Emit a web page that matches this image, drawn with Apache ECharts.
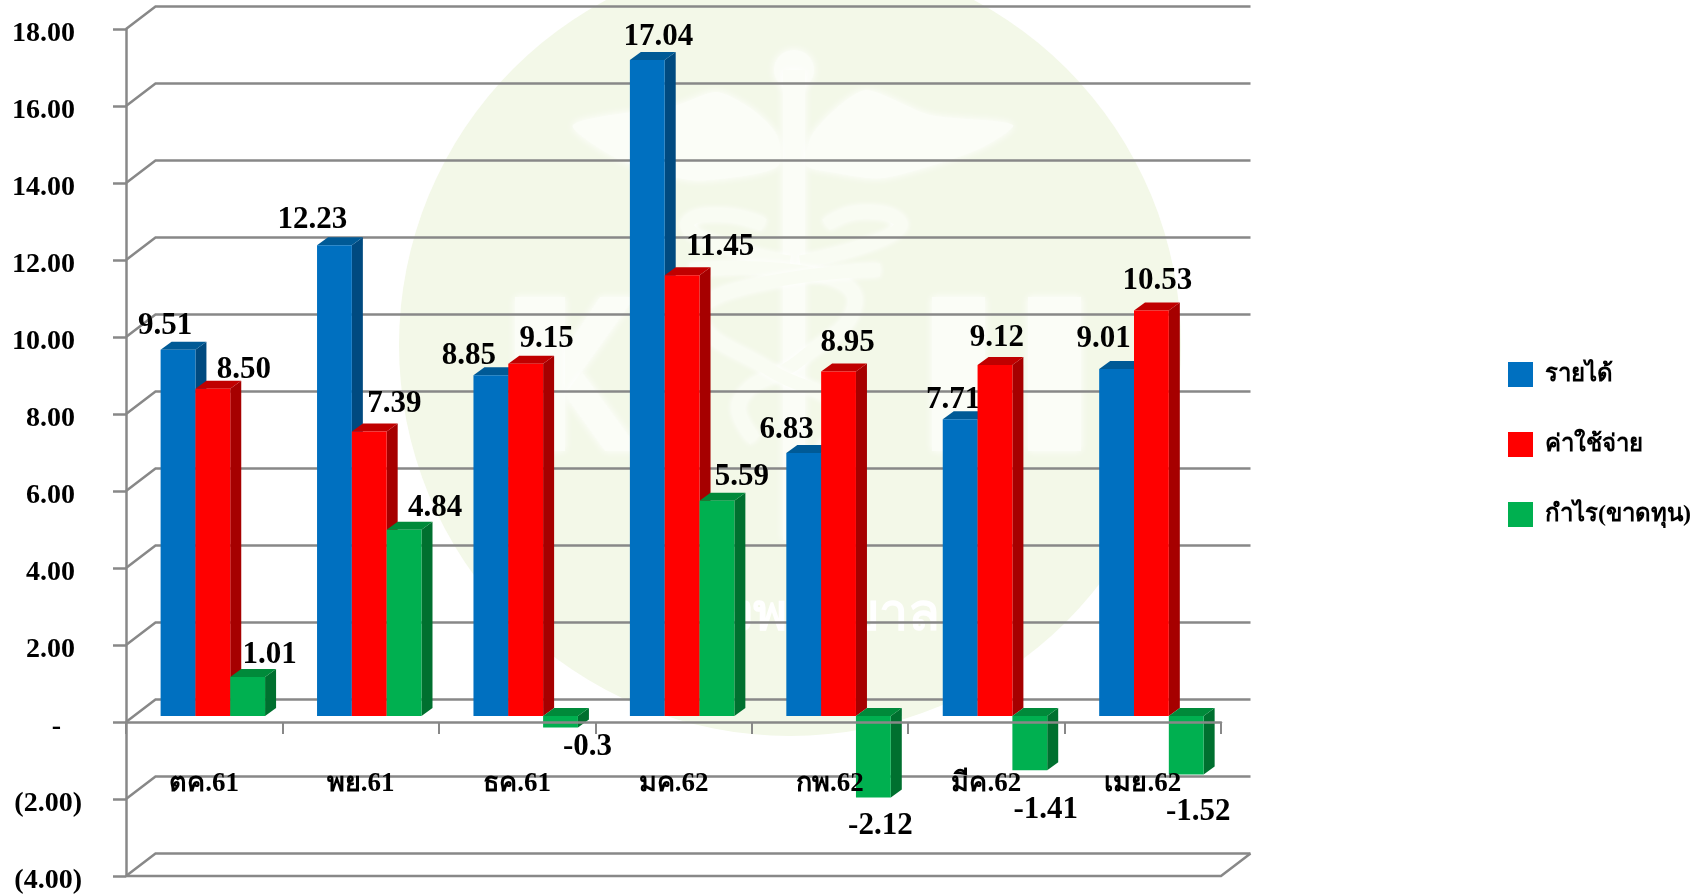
<!DOCTYPE html>
<html>
<head>
<meta charset="utf-8">
<title>รายได้ ค่าใช้จ่าย กำไร(ขาดทุน)</title>
<style>
  html, body { margin: 0; padding: 0; background: #fff; }
  #chart { width: 1704px; height: 894px; }
</style>
<script src="https://cdn.jsdelivr.net/npm/echarts@6/dist/echarts.min.js"></script>
</head>
<body>
<div id="chart"></div>
<script>
const months = ['ตค.61', 'พย.61', 'ธค.61', 'มค.62', 'กพ.62', 'มีค.62', 'เมย.62'];
const revenue = [9.51, 12.23, 8.85, 17.04, 6.83, 7.71, 9.01];
const expense = [8.50, 7.39, 9.15, 11.45, 8.95, 9.12, 10.53];
const profit = [1.01, 4.84, -0.3, 5.59, -2.12, -1.41, -1.52];
const profitText = ['1.01', '4.84', '-0.3', '5.59', '-2.12', '-1.41', '-1.52'];
const wallTicks = [-4, -2, 0, 2, 4, 6, 8, 10, 12, 14, 16, 18];

// hand placed label shifts from the bar's value point, same as in the picture
const revenueShift = [[-13, -30], [-22, -31], [-22, -25], [11, -29], [-17, -29], [-7, -25], [-13, -36]];
const expenseShift = [[31, -25], [25, -34], [21, -31], [38, -34], [9, -34], [2, -33], [6, -36]];
const profitShift = [[22, -28], [31, -28], [27, 13], [25, -30], [7, 22], [16, 34], [12, 31]];

const SERIF = '"Liberation Serif", "Noto Sans", serif';
const GRID_GRAY = '#888888';
const WALL_DX = 29.5;
const WALL_DY = 22.5;
const BAR_DX = 11;
const BAR_DY = 8;
const BAR_SHIFT_X = 8.5;
const BAR_SHIFT_Y = 6;

const chart = echarts.init(document.getElementById('chart'));

const renderWall = (params, api) => {
  const v = api.value(0);
  const cs = params.coordSys;
  const y = api.coord([0, v])[1];
  const left = cs.x;
  const right = cs.x + cs.width;
  const style = { stroke: GRID_GRAY, lineWidth: 2.5, fill: null };
  const children = [{
    type: 'polyline',
    shape: { points: [[left, y], [left + WALL_DX, y - WALL_DY], [right + WALL_DX, y - WALL_DY]] },
    style: style
  }];
  if (v === -4) {
    children.push({
      type: 'polyline',
      shape: { points: [[left, y], [right, y], [right + WALL_DX, y - WALL_DY]] },
      style: style
    });
  }
  return { type: 'group', children: children };
};

const barRenderer = (slot, colors, shifts, texts) => (params, api) => {
  const i = api.value(0);
  const v = api.value(1);
  const band = api.size([1, 0])[0];
  const barW = band * 0.2226;
  const x = api.coord([i, 0])[0] - band / 2 + band * 0.1669 + BAR_SHIFT_X + barW * slot;
  const yZero = api.coord([i, 0])[1] - BAR_SHIFT_Y;
  const yVal = api.coord([i, v])[1] - BAR_SHIFT_Y;
  const yTop = Math.min(yZero, yVal);
  const yBot = Math.max(yZero, yVal);
  const shift = shifts[i];
  return {
    type: 'group',
    children: [
      {
        type: 'polygon',
        shape: { points: [[x + barW, yTop], [x + barW + BAR_DX, yTop - BAR_DY], [x + barW + BAR_DX, yBot - BAR_DY], [x + barW, yBot]] },
        style: { fill: colors[1] }
      },
      {
        type: 'polygon',
        shape: { points: [[x, yTop], [x + BAR_DX, yTop - BAR_DY], [x + barW + BAR_DX, yTop - BAR_DY], [x + barW, yTop]] },
        style: { fill: colors[2] }
      },
      {
        type: 'rect',
        shape: { x: x, y: yTop, width: barW, height: yBot - yTop },
        style: { fill: colors[0] }
      },
      {
        type: 'text',
        x: x + barW / 2 + shift[0],
        y: yVal + BAR_SHIFT_Y + shift[1],
        style: {
          text: texts[i],
          fill: '#000',
          font: 'bold 31px ' + SERIF,
          align: 'center',
          verticalAlign: 'middle'
        }
      }
    ]
  };
};

const barSeries = (name, values, slot, colors, shifts, texts) => ({
  name: name,
  type: 'custom',
  z: 3,
  silent: true,
  itemStyle: { color: colors[0] },
  encode: { x: 0, y: 1 },
  data: values.map((v, i) => [i, v]),
  renderItem: barRenderer(slot, colors, shifts, texts)
});

const blob = (extra) => Object.assign({ z: -1, silent: true }, extra);
const WHITE = { fill: '#fbfdf7', shadowBlur: 8, shadowColor: '#ffffff' };
const snake = { fill: null, stroke: '#f9fcf3', lineWidth: 13, shadowBlur: 6, shadowColor: '#ffffff' };

chart.setOption({
  animation: false,
  backgroundColor: '#fff',
  graphic: [
    blob({ type: 'circle', shape: { cx: 790, cy: 345, r: 391 }, style: { fill: '#f3f8e8' } }),
    // caduceus in the watermark
    blob({ type: 'circle', shape: { cx: 794, cy: 70, r: 20 }, style: WHITE }),
    blob({ type: 'rect', shape: { x: 783, y: 70, width: 22, height: 470 }, style: WHITE }),
    blob({
      type: 'polygon',
      shape: { smooth: 0.25, points: [[806, 165], [812, 135], [840, 105], [867, 90], [930, 115], [1013, 125], [977, 150], [883, 178], [830, 172]] },
      style: WHITE
    }),
    blob({
      type: 'polygon',
      shape: { smooth: 0.25, points: [[779, 165], [777, 135], [753, 110], [717, 92], [677, 105], [573, 125], [620, 160], [690, 180], [750, 175]] },
      style: WHITE
    }),
    blob({ type: 'polyline', shape: { smooth: 0.5, points: [[826, 225], [860, 212], [900, 222], [880, 240], [800, 262]] }, style: snake }),
    blob({ type: 'polyline', shape: { smooth: 0.5, points: [[764, 225], [725, 215], [688, 222], [705, 240], [790, 262]] }, style: snake }),
    blob({ type: 'polyline', shape: { smooth: 0.5, points: [[690, 270], [820, 275], [855, 305], [800, 360], [740, 400], [755, 440]] }, style: snake }),
    blob({ type: 'polyline', shape: { smooth: 0.5, points: [[880, 270], [735, 290], [700, 320], [770, 370], [840, 410], [820, 450]] }, style: snake }),
    // big letters behind the bars
    blob({ type: 'rect', shape: { x: 932, y: 297, width: 53, height: 154 }, style: WHITE }),
    blob({ type: 'rect', shape: { x: 1028, y: 297, width: 53, height: 154 }, style: WHITE }),
    blob({ type: 'rect', shape: { x: 515, y: 297, width: 50, height: 154 }, style: WHITE }),
    blob({ type: 'polygon', shape: { points: [[565, 350], [600, 297], [635, 297], [565, 395]] }, style: WHITE }),
    blob({ type: 'polygon', shape: { points: [[582, 372], [640, 451], [605, 451], [565, 395]] }, style: WHITE }),
    blob({
      type: 'text',
      style: { x: 940, y: 615, text: 'โรงพยาบาล', fill: '#ffffff', font: 'bold 52px "Noto Sans", sans-serif', align: 'right', verticalAlign: 'middle' }
    })
  ],
  legend: {
    orient: 'vertical',
    left: 1508,
    top: 362,
    padding: 0,
    itemWidth: 25,
    itemHeight: 25,
    itemGap: 45,
    icon: 'rect',
    selectedMode: false,
    data: ['รายได้', 'ค่าใช้จ่าย', 'กำไร(ขาดทุน)'],
    textStyle: { fontFamily: SERIF, fontWeight: 'bold', fontSize: 24, color: '#000', padding: [0, 0, 0, 7] }
  },
  grid: { left: 126, right: 483, top: 29, bottom: 18, outerBoundsMode: 'none' },
  xAxis: {
    type: 'category',
    data: months,
    z: 10,
    axisLine: { onZero: true, lineStyle: { color: GRID_GRAY, width: 2.5 } },
    axisTick: { show: true, length: 12, lineStyle: { color: GRID_GRAY, width: 2 } },
    // labels stay on the grid's bottom edge in v6, so pull them up under the zero line
    axisLabel: { margin: -105, color: '#000', fontFamily: SERIF, fontWeight: 'bold', fontSize: 27 },
    splitLine: { show: false }
  },
  yAxis: {
    type: 'value',
    min: -4,
    max: 18,
    interval: 2,
    z: 1,
    axisLine: { show: true, lineStyle: { color: GRID_GRAY, width: 2.5 } },
    axisTick: { show: true, length: 13, lineStyle: { color: GRID_GRAY, width: 2.5 } },
    splitLine: { show: false },
    axisLabel: {
      margin: 44,
      formatter: (v) => {
        if (v === 0) return '{dash|-}';
        if (v < 0) return '{neg|(' + Math.abs(v).toFixed(2) + ')}';
        return '{pos|' + v.toFixed(2) + '}';
      },
      rich: {
        pos: { color: '#000', fontFamily: SERIF, fontWeight: 'bold', fontSize: 28, padding: [9, 7, 0, 0] },
        neg: { color: '#000', fontFamily: SERIF, fontWeight: 'bold', fontSize: 28, padding: [9, 0, 0, 0] },
        dash: { color: '#000', fontFamily: SERIF, fontWeight: 'bold', fontSize: 28, padding: [9, 21, 0, 0] }
      }
    }
  },
  series: [
    {
      type: 'custom',
      z: 1,
      silent: true,
      encode: { x: 1, y: 0 },
      data: wallTicks.map((v) => [v, 0]),
      renderItem: renderWall
    },
    barSeries('รายได้', revenue, 0, ['#0070c0', '#004a80', '#005a96'], revenueShift, revenue.map((v) => v.toFixed(2))),
    barSeries('ค่าใช้จ่าย', expense, 1, ['#ff0000', '#a60000', '#c00000'], expenseShift, expense.map((v) => v.toFixed(2))),
    barSeries('กำไร(ขาดทุน)', profit, 2, ['#00b050', '#00702f', '#008a3a'], profitShift, profitText)
  ]
});

window.addEventListener('resize', () => chart.resize());
</script>
</body>
</html>
